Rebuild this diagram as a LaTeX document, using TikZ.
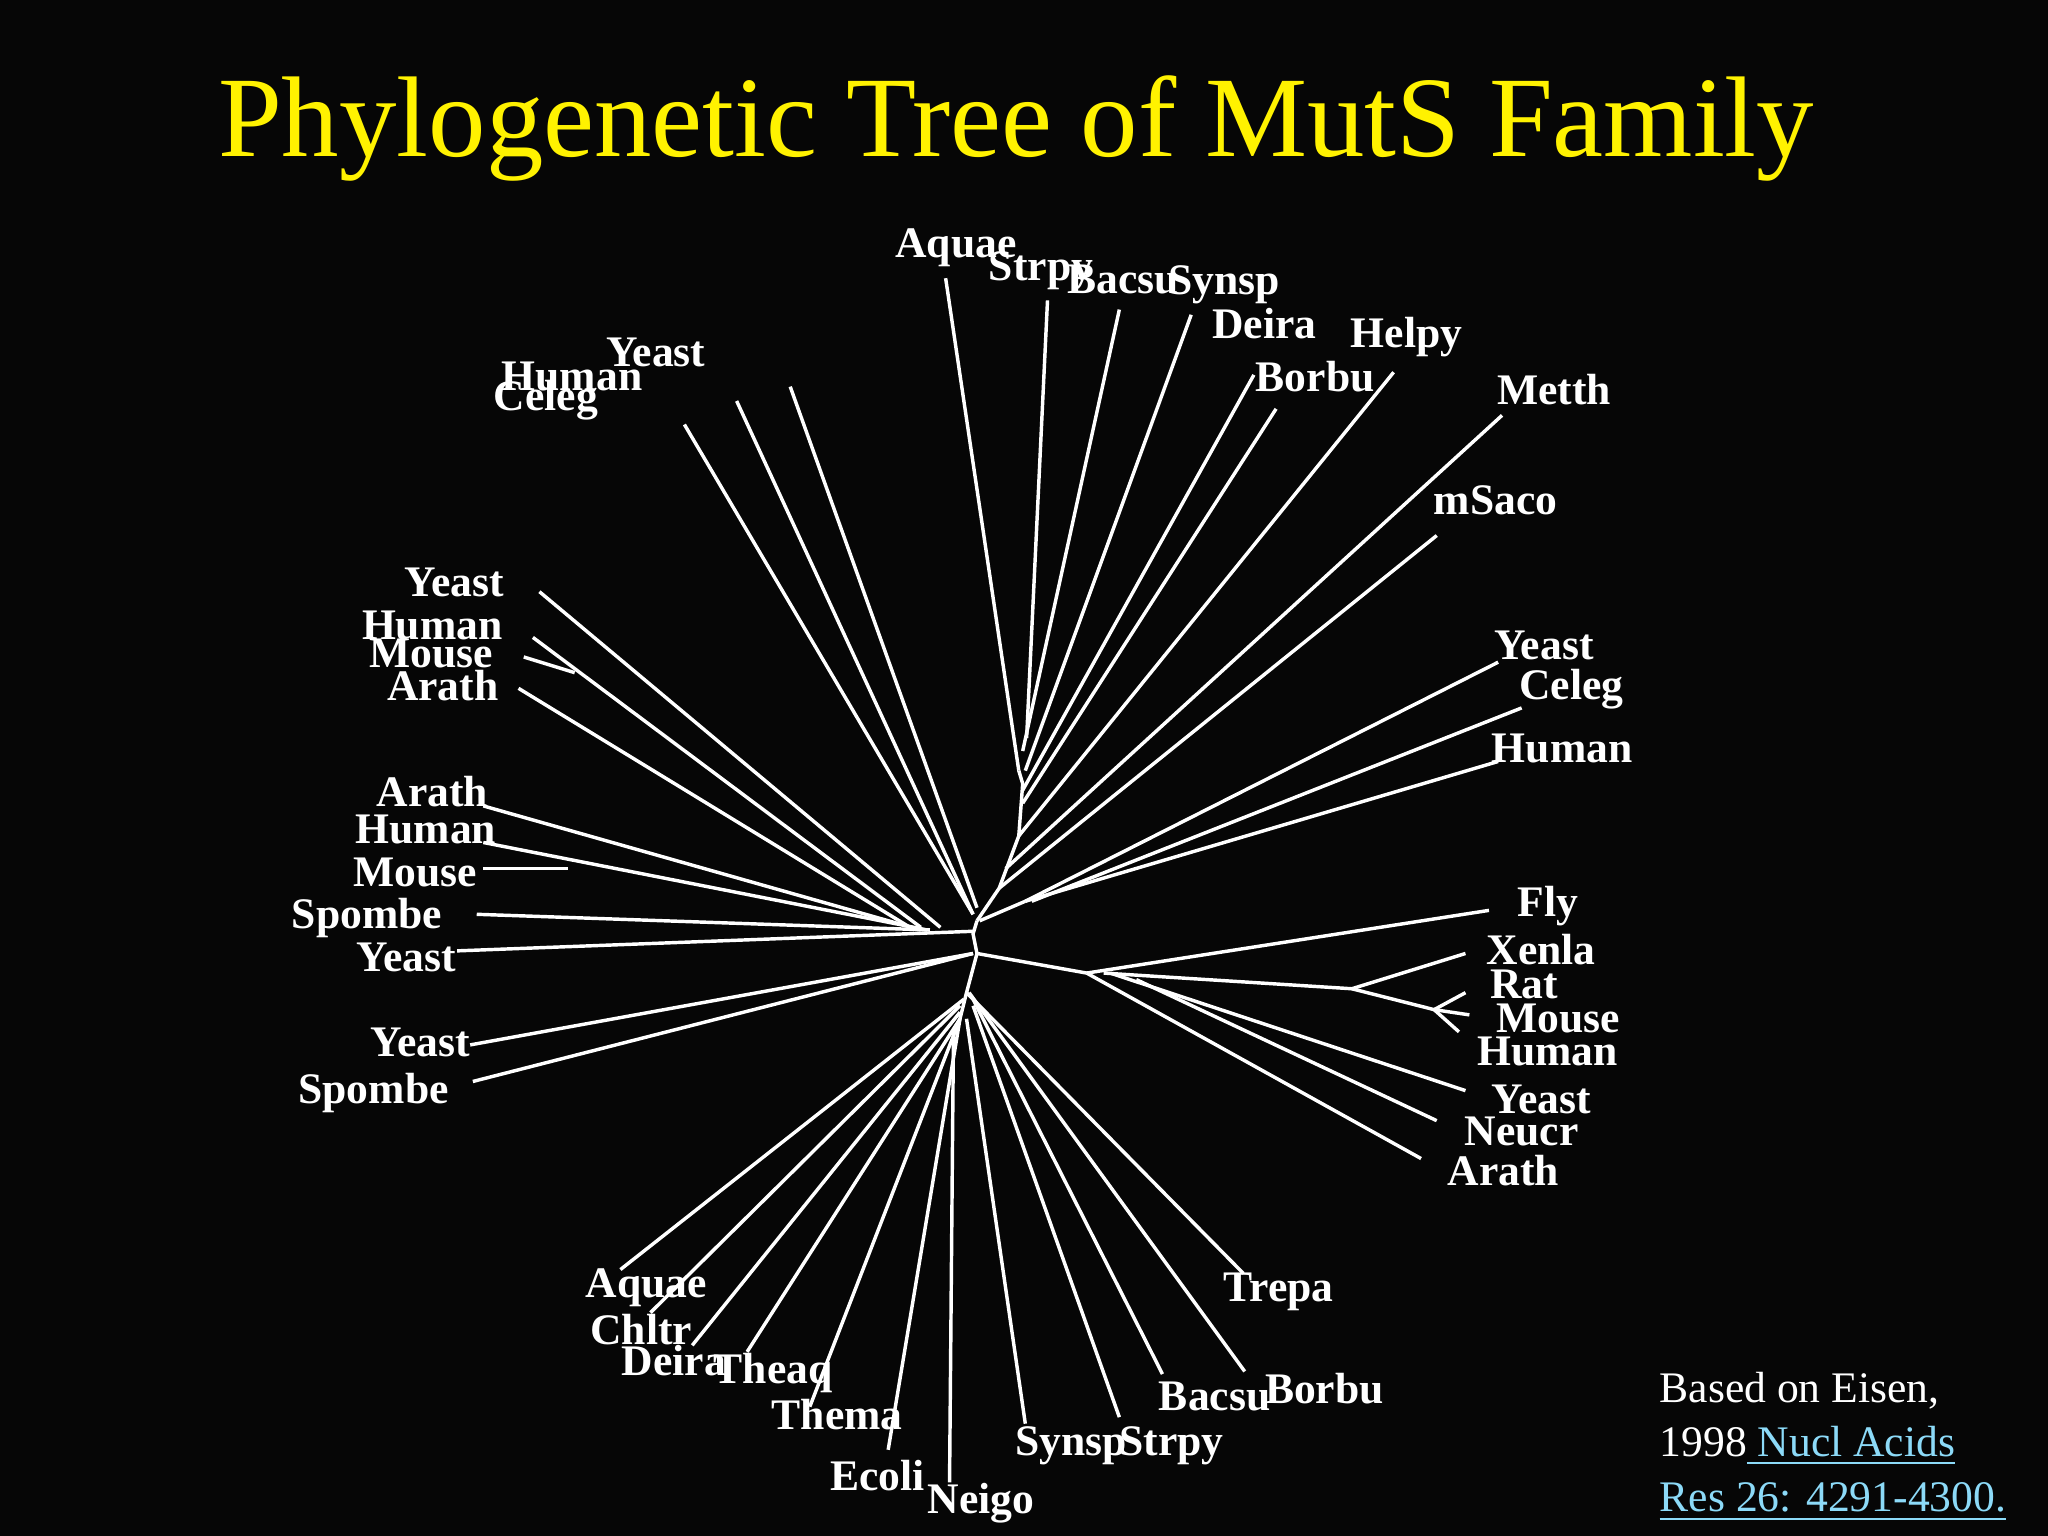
\documentclass[tikz,border=0pt]{standalone}
\usepackage{fontspec}
\setmainfont{Liberation Serif}
\begin{document}
\begin{tikzpicture}[x=0.1mm,y=-0.1mm,
  br/.style={draw=white,line width=0.75pt},
  lab/.style={text=white,font=\bfseries\fontsize{9.5}{10}\selectfont,inner sep=0pt}]
\fill[black!95!gray] (0,0) rectangle (1568,1176);
\useasboundingbox (0,0) rectangle (1568,1176);
\node[text=yellow,font=\fontsize{25}{28}\selectfont] (title) at (778,98) {Phylogenetic Tree of MutS Family};
% spine
\draw[br] (748,705)--(765,680)--(780,640)--(783,600)--(780,590);
\draw[br] (750,705)--(785,690);
\draw[br] (748,705)--(745,715)--(748,730)--(740,760)--(735,780);
% top group
\draw[br] (780,590)--(724,213);
\draw[br] (786,565)--(802,230);
\draw[br] (783,575)--(857,237);
\draw[br] (785,590)--(912,241);
\draw[br] (783,605)--(960,287);
\draw[br] (783,615)--(977,313);
\draw[br] (780,640)--(1067,285);
\draw[br] (770,665)--(1150,318);
\draw[br] (765,680)--(1100,410);
% right upper
\draw[br] (785,690)--(1147,507);
\draw[br] (790,690)--(1165,542);
\draw[br] (785,690)--(1147,583);
% top-left
\draw[br] (524,325)--(745,700);
\draw[br] (564,307)--(745,700);
\draw[br] (605,296)--(748,695);
% left
\draw[br] (413,453)--(720,710);
\draw[br] (408,488)--(705,710);
\draw[br] (401,503)--(440,515);
\draw[br] (397,527)--(700,712);
\draw[br] (370,617)--(705,712);
\draw[br] (370,645)--(710,712);
\draw[br] (370,665)--(435,665);
\draw[br] (365,700)--(712,712);
\draw[br] (350,728)--(745,713);
\draw[br] (360,800)--(745,730);
\draw[br] (362,828)--(745,730);
% right lower
\draw[br] (748,730)--(832,745);
\draw[br] (832,745)--(1140,697);
\draw[br] (845,745)--(1035,757);
\draw[br] (1035,757)--(1122,730);
\draw[br] (1035,757)--(1098,773);
\draw[br] (1098,773)--(1122,760);
\draw[br] (1098,773)--(1125,777);
\draw[br] (1098,773)--(1117,790);
\draw[br] (850,745)--(1122,835);
\draw[br] (870,750)--(1100,858);
\draw[br] (832,745)--(1088,887);
% bottom
\draw[br] (475,972)--(738,765);
\draw[br] (498,1005)--(735,770);
\draw[br] (530,1030)--(735,775);
\draw[br] (572,1035)--(735,780);
\draw[br] (620,1077)--(735,780);
\draw[br] (680,1110)--(735,780);
\draw[br] (727,1135)--(730,790);
\draw[br] (785,1090)--(740,780);
\draw[br] (857,1085)--(745,770);
\draw[br] (890,1052)--(745,765);
\draw[br] (953,1050)--(742,760);
\draw[br] (952,975)--(740,760);
% labels
\foreach \t/\x/\y/\n in {Aquae/732/190/a1,Strpy/797/207/a2,Bacsu/860/214/a3,Synsp/937/218/a4,Deira/968/248/a5,Helpy/1077/258/a6,Borbu/1007/288/a7,Metth/1190/298/a8,mSaco/1145/383/a9,
Yeast/502/270/b1,Human/438/288/b2,Celeg/418/306/b3,Yeast/348/446/b4,Human/331/479/b5,Mouse/330/500/b6,Arath/339/525/b7,Arath/331/606/b8,Human/326/635/b9,Mouse/318/668/b10,Spombe/281/703/b11,Yeast/311/733/b12,Yeast/322/798/b13,Spombe/286/837/b14,
Yeast/1182/494/c1,Celeg/1203/528/c2,Human/1196/573/c3,Fly/1185/694/c4,Xenla/1180/727/c5,Rat/1167/754/c6,Mouse/1193/780/c7,Human/1185/805/c8,Yeast/1180/842/c9,Neucr/1165/866/c10,Arath/1151/896/c11,
Trepa/979/989/d1,Aquae/495/986/d2,Chltr/491/1018/d3,Deira/516/1042/d4,Theaq/592/1051/d5,Thema/641/1083/d6,Ecoli/672/1130/d7,Neigo/751/1151/d8,Synsp/820/1107/d9,Strpy/897/1107/d10,Bacsu/930/1069/d11,Borbu/1014/1063/d12}
  \node[lab] (\n) at (\x,\y) {\t};
\node[text=white,font=\fontsize{9.5}{12}\selectfont,anchor=west,inner sep=0pt] (c1) at (1270,1065) {Based on Eisen,};
\node[text=white,font=\fontsize{9.5}{12}\selectfont,anchor=west,inner sep=0pt] (c2) at (1270,1107) {1998\textcolor{cyan!45!white}{\underline{ Nucl Acids}}};
\node[text=cyan!45!white,font=\fontsize{9.5}{12}\selectfont,anchor=west,inner sep=0pt] (c3) at (1270,1150) {\underline{Res 26: 4291-4300.}};
\end{tikzpicture}
\end{document}
